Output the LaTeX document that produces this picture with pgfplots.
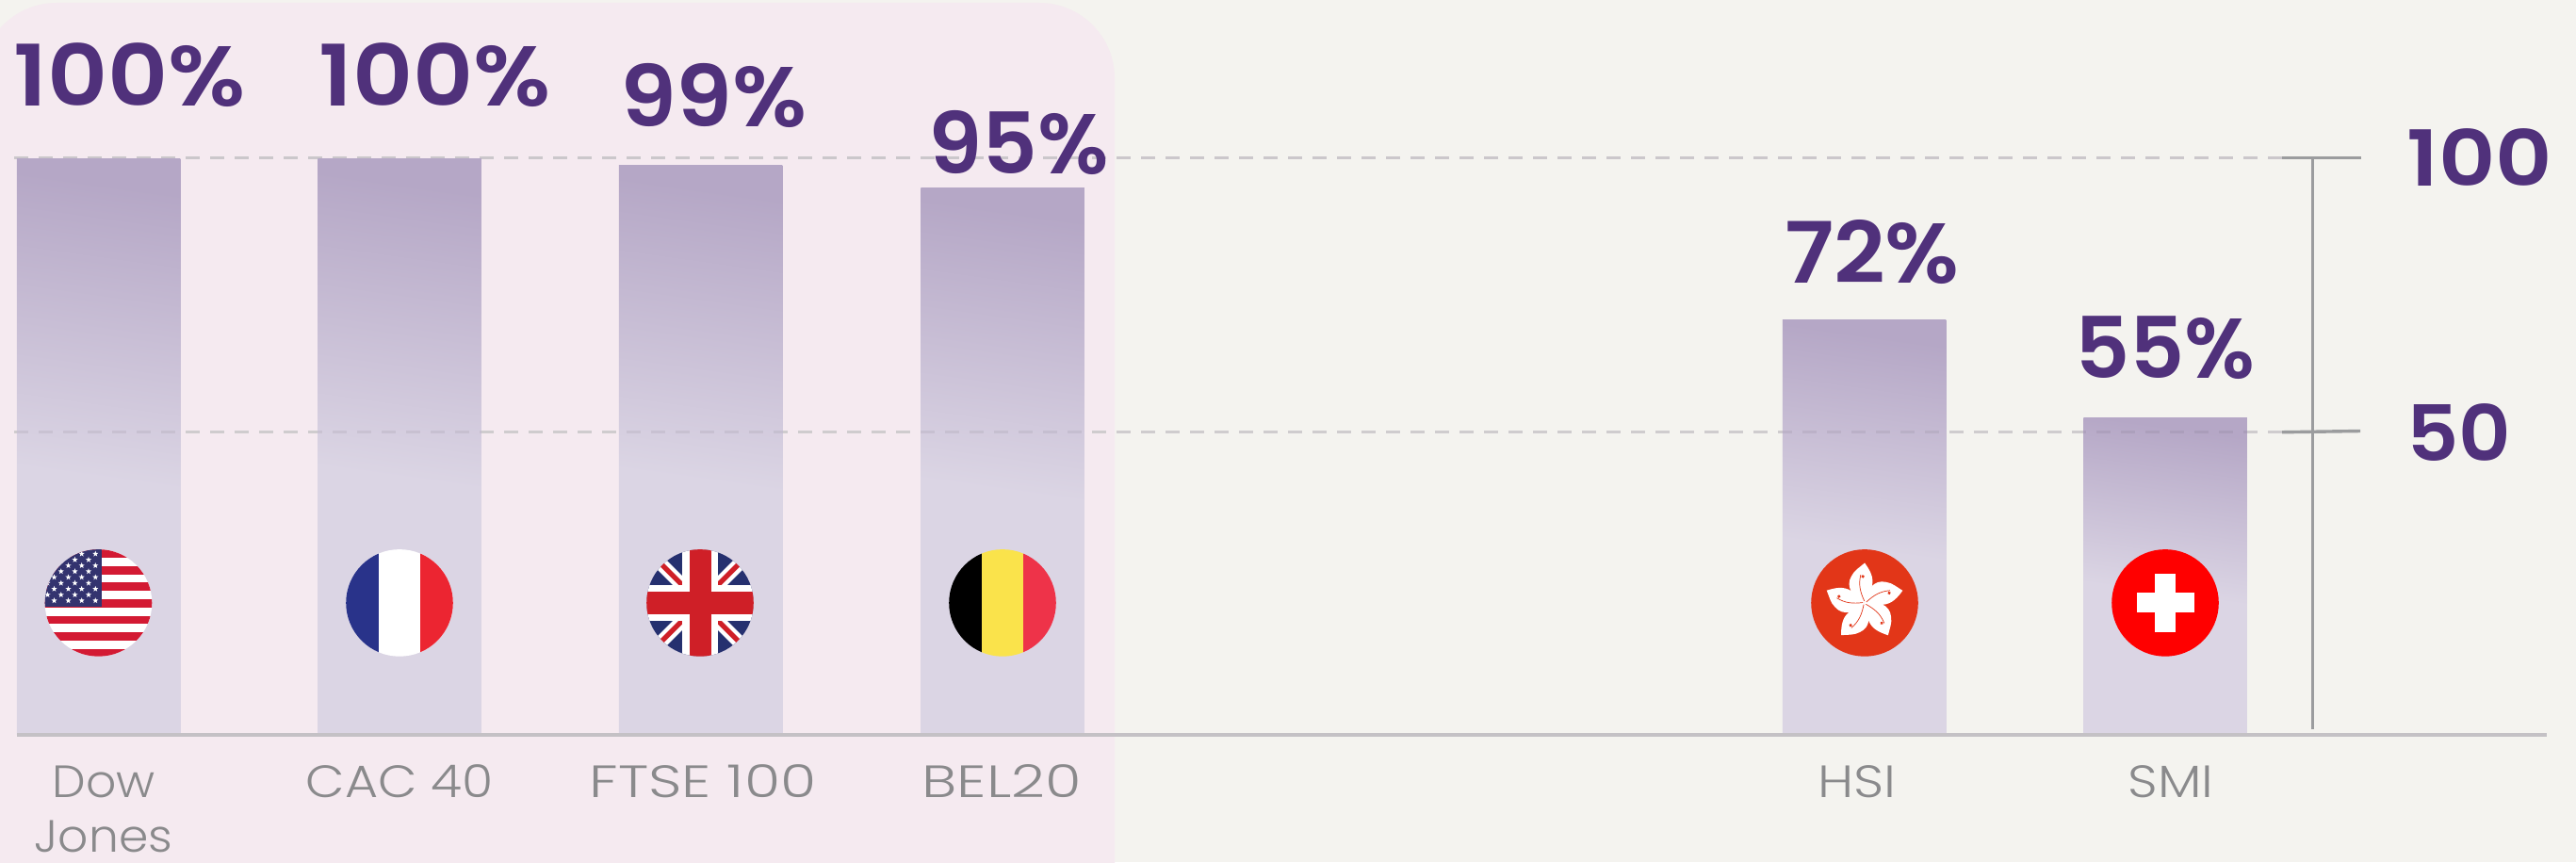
\documentclass[border=0pt]{standalone}
\usepackage{pgfplots}
\pgfplotsset{compat=1.18}
\usepackage{fontspec}
\usetikzlibrary{shapes.geometric}
\setmainfont{Poppins}
\newfontfamily\boldf[UprightFont=* SemiBold,FakeStretch=1.05]{Poppins}
\newfontfamily\boldg[UprightFont=* SemiBold,FakeStretch=1.14]{Poppins}
\newfontfamily\lightf[UprightFont=* Light]{Poppins}
\definecolor{pagebg}{HTML}{F4F3EF}
\definecolor{pinkbg}{HTML}{F5EAF0}
\definecolor{barhi}{HTML}{B5A7C6}
\definecolor{barlo}{HTML}{DBD5E4}
\definecolor{purp}{HTML}{50317B}
\definecolor{lab}{HTML}{8A8A8C}
\definecolor{gridA}{HTML}{CBC7CB}
\definecolor{gridB}{HTML}{DCD9DB}
\definecolor{baseC}{HTML}{C4C1C5}
\definecolor{scaleC}{HTML}{9B9C9E}
\definecolor{flagred}{HTML}{D31A33}
\definecolor{flagnavy}{HTML}{33336F}
\definecolor{frb}{HTML}{29338A}
\definecolor{frr}{HTML}{EC2531}
\definecolor{ukblue}{HTML}{25306F}
\definecolor{ukred}{HTML}{CF1F27}
\definecolor{beyel}{HTML}{FAE34B}
\definecolor{bered}{HTML}{EE3349}
\definecolor{hkred}{HTML}{E23618}
\pgfdeclareverticalshading{barshade}{100bp}{color(0bp)=(barlo); color(25bp)=(barlo); color(47bp)=(barlo); color(75bp)=(barhi); color(100bp)=(barhi)}
\newcommand\valfont{\boldf\fontsize{45}{45}\selectfont}
\newcommand\tickfont{\boldg\fontsize{41}{41}\selectfont}
\newcommand\catfont{\lightf\fontsize{24}{29}\selectfont}
\newcommand\hs[2]{\scalebox{#1}[1]{#2}}
\tikzset{px/.style={x=0.5pt,y=0.5pt},val/.style={font=\valfont,text=purp,anchor=base,inner sep=0pt},
  onebar/.style={ybar,bar shift=0pt,bar width=173.5,draw=none,shade,shading=barshade,shading angle=-8}}
% flags, units are reference pixels
\newcommand\flagUS{%
  \fill[white] (-60,-60) rectangle (60,60);
  \foreach \i in {0,2,...,12} {\fill[flagred] (-60,{56.7-\i*8.8}) rectangle (60,{56.7-(\i+1)*8.8});}
  \fill[flagnavy] (-60,-4.5) rectangle (3.8,60);
  \foreach \yy in {52,39.6,27.2,14.8,2.4} \foreach \xx in {-3.2,-17.8,-32,-47} {\node[star,star points=5,star point ratio=2.4,fill=white,inner sep=0pt,minimum size=3.2pt] at (\xx,\yy) {};}
  \foreach \yy in {45.8,33.4,21,8.6} \foreach \xx in {-10.5,-25,-39.7,-54} {\node[star,star points=5,star point ratio=2.4,fill=white,inner sep=0pt,minimum size=3.2pt] at (\xx,\yy) {};}
}
\newcommand\flagFR{%
  \fill[white] (-60,-60) rectangle (60,60);
  \fill[frb] (-60,-60) rectangle (-21.7,60);
  \fill[frr] (22.3,-60) rectangle (60,60);
}
\newcommand\flagUK{%
  \fill[ukblue] (-60,-60) rectangle (60,60);
  \draw[white,line width=7pt] (-60,-60) -- (60,60) (-60,60) -- (60,-60);
  \draw[ukred,line width=2.6pt] (-60,60) -- (0,0) (0,0) -- (60,-60) (-60,-60) -- (0,0) (0,0) -- (60,60);
  \fill[white] (-60,-19) rectangle (60,19);
  \fill[white] (-19,-60) rectangle (19,60);
  \fill[ukred] (-60,-12) rectangle (60,12);
  \fill[ukred] (-11.5,-60) rectangle (11.5,60);
}
\newcommand\flagBE{%
  \fill[black] (-60,-60) rectangle (-22.5,60);
  \fill[beyel] (-22.5,-60) rectangle (22,60);
  \fill[bered] (22,-60) rectangle (60,60);
}
\newcommand\flagHK{%
  \fill[hkred] (-60,-60) rectangle (60,60);
  \foreach \a in {0,72,144,216,288} {
    \begin{scope}[rotate=\a+8]
      \fill[white] (0,0) .. controls (-12,8) and (-18,20) .. (-10,30) .. controls (-6,36) and (0,38) .. (6,42) .. controls (10,34) and (14,26) .. (10,16) .. controls (8,10) and (4,6) .. (0,0) -- cycle;
      \fill[hkred] (2,28) circle[radius=0.9pt];
      \draw[hkred,line width=0.35pt] (0,2) .. controls (-3,12) and (-4,20) .. (0,30);
    \end{scope}
  }
}
\newcommand\flagCH{%
  \fill[red] (-60,-60) rectangle (60,60);
  \fill[white] (-10.7,-31) rectangle (10.7,31);
  \fill[white] (-30.5,-10.5) rectangle (30.5,10.5);
}
\newcommand\flagat[3]{%
  \pgfplotsextra{%
  \begin{scope}[shift={(axis cs:#1,#2)},px]
    \begin{scope}
      \clip (0,0) circle (28.4pt);
      #3
    \end{scope}
  \end{scope}
  }%
}
\begin{document}
\begin{tikzpicture}
\useasboundingbox (0,-68pt) rectangle (1367pt,389.5pt);
\fill[pagebg] (0,-68pt) rectangle (1367pt,389.5pt);
\begin{scope}
  \clip (0,-68pt) rectangle (1367pt,389.5pt);
  \fill[pinkbg,rounded corners=40pt] (-10pt,-150pt) rectangle (591.5pt,388pt);
\end{scope}
\begin{axis}[
  at={(0,0)},anchor=south west,
  scale only axis,width=1367pt,height=389.5pt,
  xmin=0,xmax=2734,ymin=0,ymax=127.7,
  clip=false,
  axis line style={draw=none},
  major tick length=0pt,
  xtick={110,424,746,1063,1971,2304},
  xticklabels={{\hs{1.05}{\begin{tabular}[t]{@{}c@{}}Dow\\Jones\end{tabular}}},{\hs{1.12}{CAC 40}},{\hs{1.29}{FTSE 100}},{\hs{1.3}{BEL20}},{\hs{1.17}{HSI}},{\hs{1.15}{SMI}}},
  xticklabel style={font=\catfont,text=lab,align=center,anchor=base,inner sep=0pt,yshift=-33.5pt},
  xtick pos=bottom,
  ytick={52.5,100.25},
  yticklabels={{\hs{0.92}{50}},100},
  ytick pos=right,
  yticklabel pos=right,
  yticklabel style={font=\tickfont,text=purp,anchor=west,inner sep=0pt,xshift=-90pt},
]
% dashed reference lines behind the bars
\addplot[gridA,line width=1.6pt,dash pattern=on 7.5pt off 5.5pt] coordinates {(15,100.25) (2422,100.25)};
\addplot[gridB,line width=1.6pt,dash pattern=on 7.5pt off 5.5pt] coordinates {(15,52.5) (2422,52.5)};
% bars
\addplot[onebar] coordinates {(104.5,100)};
\addplot[onebar] coordinates {(424,100)};
\addplot[onebar] coordinates {(743.5,99)};
\addplot[onebar] coordinates {(1064,95)};
\addplot[onebar] coordinates {(1978.5,72)};
\addplot[onebar] coordinates {(2298,55)};
% dashes faintly over the bars
\addplot[black,opacity=0.06,line width=1.6pt,dash pattern=on 7.5pt off 5.5pt] coordinates {(15,52.5) (2422,52.5)};
% baseline
\addplot[baseC,line width=2pt] coordinates {(18,-0.2) (2703,-0.2)};
% scale at the right
\addplot[scaleC,line width=1.5pt] coordinates {(2454.5,0.8) (2454.5,100.25)};
\addplot[scaleC,line width=1.7pt] coordinates {(2422,100.25) (2506,100.25)};
\addplot[scaleC,line width=1.7pt] coordinates {(2422,52.5) (2505,52.7)};
% value labels
\node[val] at (axis cs:138,109.2) {\hs{1.05}{100\%}};
\node[val] at (axis cs:462,109.2) {\hs{1.05}{100\%}};
\node[val] at (axis cs:757.5,105.6) {\hs{1.01}{99\%}};
\node[val] at (axis cs:1081,97.5) {\hs{0.965}{95\%}};
\node[val] at (axis cs:1987,78.5) {\hs{1.008}{72\%}};
\node[val] at (axis cs:2298,61.9) {\hs{0.957}{55\%}};
% flags
\flagat{104.5}{22.8}{\flagUS}
\flagat{424}{22.8}{\flagFR}
\flagat{743}{22.8}{\flagUK}
\flagat{1064}{22.8}{\flagBE}
\flagat{1979}{22.8}{\flagHK}
\flagat{2298}{22.8}{\flagCH}
\end{axis}
\end{tikzpicture}
\end{document}
